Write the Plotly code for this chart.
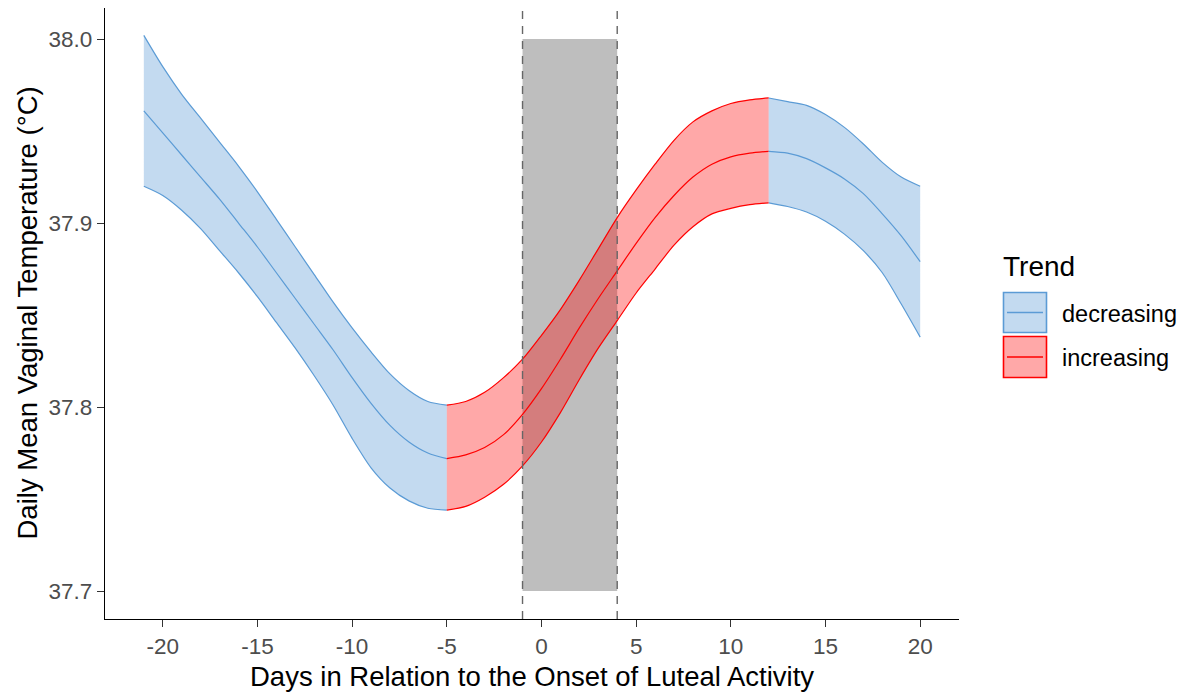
import plotly.graph_objects as go

# Days relative to the onset of luteal activity
days = list(range(-21, 21))

# Smoothed daily mean vaginal temperature (°C) with its confidence band
temp_mean = [37.961, 37.949, 37.937, 37.925, 37.913, 37.900, 37.887, 37.873, 37.859, 37.845,
             37.831, 37.816, 37.802, 37.790, 37.781, 37.775, 37.772, 37.774, 37.778, 37.785,
             37.796, 37.810, 37.826, 37.843, 37.859, 37.874, 37.889, 37.903, 37.915, 37.925,
             37.932, 37.936, 37.938, 37.939, 37.938, 37.935, 37.930, 37.924, 37.916, 37.905,
             37.893, 37.879]
temp_upper = [38.002, 37.985, 37.970, 37.957, 37.944, 37.931, 37.917, 37.902, 37.887, 37.872,
              37.857, 37.843, 37.830, 37.818, 37.809, 37.803, 37.801, 37.803, 37.808, 37.816,
              37.826, 37.839, 37.853, 37.869, 37.886, 37.903, 37.918, 37.932, 37.945, 37.955,
              37.961, 37.965, 37.967, 37.968, 37.966, 37.964, 37.959, 37.952, 37.943, 37.933,
              37.925, 37.920]
temp_lower = [37.920, 37.915, 37.907, 37.897, 37.885, 37.873, 37.860, 37.846, 37.832, 37.817,
              37.801, 37.783, 37.767, 37.756, 37.749, 37.745, 37.744, 37.746, 37.751, 37.758,
              37.768, 37.781, 37.797, 37.815, 37.832, 37.847, 37.862, 37.875, 37.888, 37.898,
              37.905, 37.908, 37.910, 37.911, 37.909, 37.906, 37.901, 37.894, 37.885, 37.873,
              37.856, 37.838]

# Trend segments: (first day, last day, trend)
segments = [(-21, -5, "decreasing"), (-5, 12, "increasing"), (12, 20, "decreasing")]

# Luteal onset window
window_start, window_end = -1, 4
window_low, window_high = 37.7, 38.0

x_ticks = [-20, -15, -10, -5, 0, 5, 10, 15, 20]
x_tick_labels = ["-20", "-15", "-10", "-5", "0", "5", "10", "15", "20"]
y_ticks = [37.7, 37.8, 37.9, 38.0]
y_tick_labels = ["37.7", "37.8", "37.9", "38.0"]

line_colors = {"decreasing": "rgb(91,155,213)", "increasing": "rgb(255,0,0)"}
fill_colors = {"decreasing": "rgba(91,155,213,0.37)", "increasing": "rgba(255,0,0,0.34)"}

FONT = "Liberation Sans, Arial, sans-serif"
W, H = 1185, 693
ML, MR, MT, MB = 105, 226, 8, 74
PW, PH = W - ML - MR, H - MT - MB


def px(xp):
    return (xp - ML) / PW


def py(yp):
    return (H - MB - yp) / PH


fig = go.Figure()
spline = dict(shape="spline", smoothing=0.8)

for start, end, trend in segments:
    i0, i1 = days.index(start), days.index(end) + 1
    xs = days[i0:i1]
    lo = temp_lower[i0:i1]
    hi = temp_upper[i0:i1]
    mu = temp_mean[i0:i1]
    # confidence ribbon
    fig.add_trace(go.Scatter(x=xs, y=lo, mode="lines", line=dict(width=0, **spline),
                             hoverinfo="skip", showlegend=False))
    fig.add_trace(go.Scatter(x=xs, y=hi, mode="lines", line=dict(width=0, **spline),
                             fill="tonexty", fillcolor=fill_colors[trend],
                             hoverinfo="skip", showlegend=False))
    # ribbon outlines and fitted line
    for ys in (lo, hi, mu):
        fig.add_trace(go.Scatter(
            x=xs, y=ys, mode="lines",
            line=dict(color=line_colors[trend], width=1.2, **spline),
            showlegend=False, name=trend))

# Shaded luteal onset window and its dashed borders
fig.add_shape(type="rect", x0=window_start, x1=window_end, y0=window_low, y1=window_high,
              xref="x", yref="y", fillcolor="#BEBEBE", line=dict(width=0), layer="below")
for xv in (window_start, window_end):
    fig.add_shape(type="line", x0=xv, x1=xv, y0=0, y1=1, xref="x", yref="paper",
                  line=dict(color="#666666", width=1.4, dash="8px,7px"), layer="above")

# Legend drawn as keys with filled boxes
fig.add_annotation(x=px(1001), y=py(266), xref="paper", yref="paper", text="Trend",
                   showarrow=False, xanchor="left", yanchor="middle",
                   font=dict(family=FONT, size=28, color="#000000"))
keys = [("decreasing", 292.5, 332.5), ("increasing", 336.5, 377.5)]
for trend, top, bot in keys:
    fig.add_shape(type="rect", xref="paper", yref="paper",
                  x0=px(1003.5), x1=px(1046.5), y0=py(bot), y1=py(top),
                  fillcolor=fill_colors[trend], line=dict(color=line_colors[trend], width=1.6))
    mid = (top + bot) / 2
    fig.add_shape(type="line", xref="paper", yref="paper",
                  x0=px(1007), x1=px(1043), y0=py(mid), y1=py(mid),
                  line=dict(color=line_colors[trend], width=1.6))
    fig.add_annotation(x=px(1060), y=py(mid + 1), xref="paper", yref="paper", text=trend,
                       showarrow=False, xanchor="left", yanchor="middle",
                       font=dict(family=FONT, size=23.5, color="#000000"))

# Axis titles
fig.add_annotation(x=0.5, y=py(676), xref="paper", yref="paper",
                   text="Days in Relation to the Onset of Luteal Activity", showarrow=False,
                   xanchor="center", yanchor="middle",
                   font=dict(family=FONT, size=27.5, color="#000000"))
fig.add_annotation(x=px(27), y=0.5, xref="paper", yref="paper",
                   text="Daily Mean Vaginal Temperature (°C)", showarrow=False, textangle=-90,
                   xanchor="center", yanchor="middle",
                   font=dict(family=FONT, size=27.5, color="#000000"))

axis_common = dict(showline=True, linecolor="#000000", linewidth=1.3, ticks="outside",
                   tickcolor="#333333", ticklen=7, tickwidth=1.2, showgrid=False,
                   zeroline=False, tickfont=dict(family=FONT, size=22.5, color="#4D4D4D"))

fig.update_layout(
    width=W, height=H,
    margin=dict(l=ML, r=MR, t=MT, b=MB),
    paper_bgcolor="white", plot_bgcolor="white",
    showlegend=False,
    xaxis=dict(range=[-23.05, 22.05], tickvals=x_ticks, ticktext=x_tick_labels, **axis_common),
    yaxis=dict(range=[37.6848, 38.0169], tickvals=y_ticks, ticktext=y_tick_labels,
               **axis_common),
)

fig.write_html("out.html")
